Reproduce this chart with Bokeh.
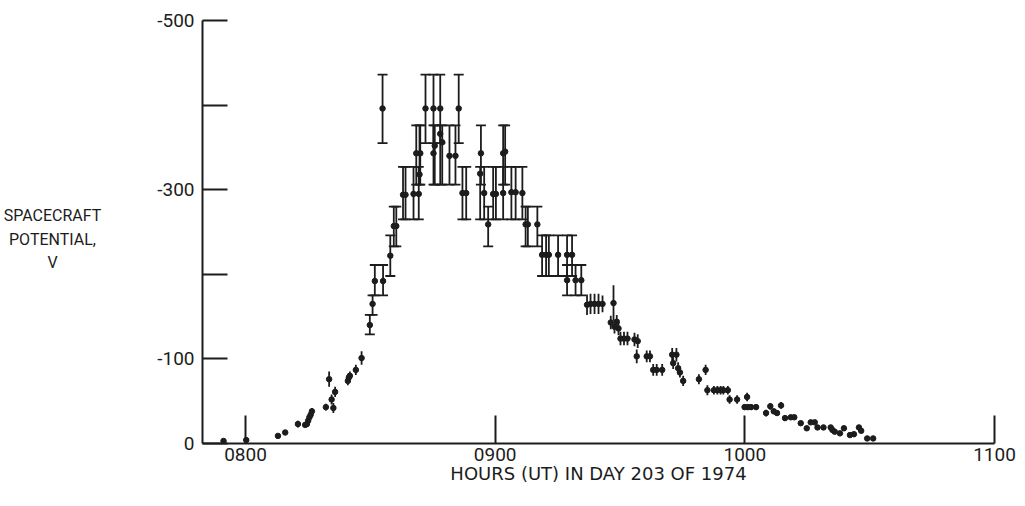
from bokeh.plotting import figure
from bokeh.layouts import row
from bokeh.models import ColumnDataSource, Range1d, FixedTicker, Whisker, TeeHead
from bokeh.core.properties import value
from bokeh.embed import file_html
from bokeh.resources import INLINE

# ---- data (time in decimal hours UT, potential in volts) ----
# points measured with wide energy-channel brackets (top / bottom of bracket)
chan_time = [8.549, 8.721, 8.753, 8.780, 8.854,
             8.684, 8.700, 8.697, 8.753, 8.758, 8.780, 8.788, 8.817, 8.841, 8.943, 9.032, 9.040,
             8.631, 8.641, 8.673, 8.694, 8.869, 8.884, 8.940, 8.956, 8.992, 9.003, 9.032, 9.065, 9.082, 9.109,
             8.594, 8.604, 8.972, 9.122, 9.131, 9.169,
             8.580, 9.188, 9.204, 9.215, 9.252, 9.288, 9.308,
             8.518, 8.551, 9.288, 9.322, 9.345,
             8.509, 8.498]
chan_value = [-396, -396, -396, -396, -396,
              -343, -343, -318, -343, -352, -366, -356, -340, -340, -343, -343, -345,
              -294, -294, -295, -295, -296, -296, -319, -296, -295, -295, -296, -297, -297, -296,
              -257, -257, -259, -259, -259, -259,
              -222, -223, -223, -223, -223, -223, -223,
              -192, -192, -193, -193, -193,
              -165, -140]
chan_top = [-436] * 5 + [-376] * 12 + [-327] * 14 + [-280] * 6 + [-246] * 7 + [-211] * 5 + [-175, -152]
chan_bottom = [-355] * 5 + [-306] * 12 + [-265] * 14 + [-233] * 6 + [-198] * 7 + [-175] * 5 + [-152, -129]

# points with small (or no) error bars
pt_time = [7.912, 8.003, 8.130, 8.159, 8.210, 8.239, 8.246, 8.251, 8.256, 8.261, 8.266,
           8.322, 8.335, 8.345, 8.352, 8.359, 8.410, 8.414, 8.418, 8.442, 8.465,
           9.368, 9.382, 9.398, 9.414, 9.430, 9.474, 9.463, 9.487, 9.478, 9.494,
           9.502, 9.516, 9.530, 9.558, 9.571, 9.567, 9.607, 9.620, 9.633, 9.647, 9.669,
           9.709, 9.726, 9.713, 9.733, 9.740, 9.753, 9.816, 9.843, 9.850,
           9.876, 9.890, 9.903, 9.914, 9.932, 9.939, 9.969, 10.009, 9.999, 10.012, 10.025, 10.045,
           10.085, 10.102, 10.116, 10.129, 10.145, 10.161, 10.184, 10.198, 10.224, 10.248,
           10.264, 10.280, 10.291, 10.315, 10.344, 10.351, 10.360, 10.381, 10.397, 10.421,
           10.437, 10.457, 10.466, 10.490, 10.514]
pt_value = [-3, -4, -9, -13, -23, -22, -23, -27, -31, -34, -38,
            -43, -76, -52, -42, -61, -74, -78, -80, -87, -101,
            -164, -165, -165, -165, -165, -166, -143, -144, -138, -136,
            -124, -124, -124, -123, -121, -103, -103, -103, -87, -87, -87,
            -105, -105, -95, -89, -84, -74, -76, -87, -63,
            -63, -63, -63, -63, -63, -52, -52, -55, -43, -43, -43, -43,
            -36, -44, -38, -36, -45, -30, -31, -31, -24, -18,
            -25, -25, -19, -19, -19, -16, -14, -12, -18, -10,
            -11, -19, -15, -6, -6]
pt_err = [0, 0, 0, 0, 4, 3, 3, 3, 3, 3, 4,
          4, 9, 6, 6, 6, 5, 5, 5, 6, 8,
          12, 12, 12, 12, 10, 21, 8, 8, 8, 8,
          8, 8, 8, 8, 8, 8, 7, 7, 7, 7, 7,
          8, 8, 7, 7, 6, 6, 6, 6, 6,
          5, 5, 5, 5, 5, 5, 5, 5, 3, 3, 3, 3,
          4, 4, 3, 3, 4, 3, 0, 0, 0, 0,
          0, 0, 0, 0, 0, 0, 0, 0, 0, 0,
          0, 0, 0, 0, 0]

x_ticks = [8, 9, 10, 11]
x_tick_labels = ["0800", "0900", "1000", "1100"]
y_ticks = [-500, -400, -300, -200, -100, 0]
y_tick_labels = ["-500", "", "-300", "", "-100", "0"]
x_title = "HOURS (UT) IN DAY 203 OF 1974"
y_title_lines = ["SPACECRAFT", "POTENTIAL,", "V"]

INK = "#1c1c1c"
FONT = "Roboto"
H = 490
TOP, BOTTOM = 20, 47          # borders shared by both panels (frames are aligned in a row)

# ---- left panel holding the horizontal y-axis title (its units are canvas pixels) ----
LW = 150
lab = figure(width=LW, height=H, output_backend="svg", toolbar_location=None,
             x_range=Range1d(0, LW), y_range=Range1d(H - BOTTOM, TOP),
             x_axis_location=None, y_axis_location=None,
             min_border_left=0, min_border_right=0, min_border_top=TOP, min_border_bottom=BOTTOM,
             outline_line_color=None)
lab.xgrid.visible = False
lab.ygrid.visible = False
lab.text(x=[52, 52, 52], y=[215, 239, 262], text=y_title_lines,
         text_align="center", text_baseline="middle",
         text_font=value(FONT), text_font_size="16px", text_color=INK)

# ---- main plot ----
p = figure(width=1017 - LW, height=H, output_backend="svg", toolbar_location=None,
           x_range=Range1d(7.8278, 11.0), y_range=Range1d(0, -500),
           min_border_left=52, min_border_right=23, min_border_top=TOP, min_border_bottom=BOTTOM)
p.background_fill_color = "white"
p.border_fill_color = "white"
p.outline_line_color = None
p.xgrid.visible = False
p.ygrid.visible = False

for ax in (p.xaxis[0], p.yaxis[0]):
    ax.axis_line_color = INK
    ax.axis_line_width = 2
    ax.major_tick_line_color = INK
    ax.major_tick_line_width = 2
    ax.minor_tick_line_color = None
    ax.major_tick_out = 0
    ax.major_label_text_font = FONT
    ax.major_label_text_font_size = "19px"
    ax.major_label_text_color = INK

p.xaxis[0].ticker = FixedTicker(ticks=x_ticks)
p.xaxis[0].major_label_overrides = dict(zip(x_ticks, x_tick_labels))
p.xaxis[0].major_tick_in = 28
p.xaxis[0].major_label_standoff = 4
p.xaxis[0].axis_label = x_title
p.xaxis[0].axis_label_standoff = -1
p.xaxis[0].axis_label_text_font = "DejaVu Sans"
p.xaxis[0].axis_label_text_font_size = "18px"
p.xaxis[0].axis_label_text_font_style = "normal"
p.xaxis[0].axis_label_text_color = INK

p.yaxis[0].ticker = FixedTicker(ticks=y_ticks)
p.yaxis[0].major_label_overrides = dict(zip(y_ticks, y_tick_labels))
p.yaxis[0].major_tick_in = 25
p.yaxis[0].major_label_standoff = 8

# bracketed measurements
chan = ColumnDataSource(dict(t=chan_time, v=chan_value, top=chan_top, bottom=chan_bottom))
p.add_layout(Whisker(base="t", upper="top", lower="bottom", source=chan, dimension="height",
                     line_color=INK, line_width=1.8,
                     upper_head=TeeHead(size=10, line_color=INK, line_width=1.8),
                     lower_head=TeeHead(size=10, line_color=INK, line_width=1.8)))
p.scatter("t", "v", source=chan, size=5.5, color=INK)

# small-error measurements
lo = [v - e for v, e in zip(pt_value, pt_err)]
hi = [v + e for v, e in zip(pt_value, pt_err)]
pts = ColumnDataSource(dict(t=pt_time, v=pt_value, lo=lo, hi=hi))
p.segment(x0="t", y0="lo", x1="t", y1="hi", source=pts, line_color=INK, line_width=1.8)
p.scatter("t", "v", source=pts, size=5.5, color=INK)

layout = row(lab, p, spacing=0)
open("out.html", "w").write(file_html(layout, INLINE))
